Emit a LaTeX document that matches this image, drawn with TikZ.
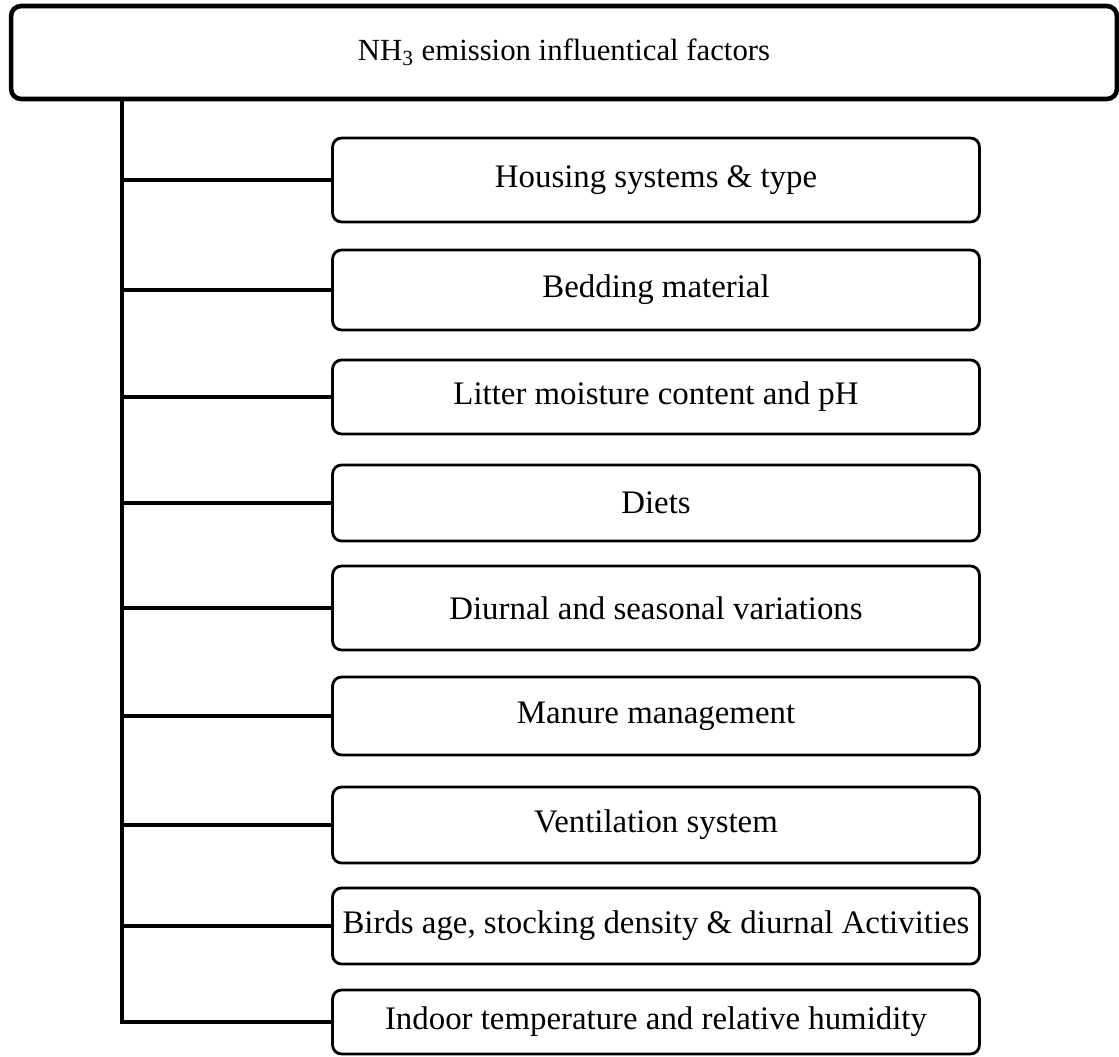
\documentclass[tikz,border=0pt]{standalone}
\usepackage{fontspec}
\setmainfont{Liberation Serif}
\usetikzlibrary{positioning}

\tikzset{
  rootbox/.style={draw=black, line width=2.6pt, rounded corners=0.2cm,
    fill=white, minimum width=22.12cm, minimum height=1.86cm, inner sep=0pt,
    font=\fontsize{17.5}{20}\selectfont},
  factor/.style={draw=black, line width=1.6pt, rounded corners=0.18cm,
    fill=white, minimum width=12.94cm, inner sep=0pt, align=center,
    font=\fontsize{18.7}{22}\selectfont},
  link/.style={line width=1.8pt},
}

\begin{document}
\begin{tikzpicture}[x=0.02cm, y=-0.02cm]

% Geometry (pixel units of the original figure)
\def\trunkx{122}   % x of the vertical spine
\def\boxx{656}     % centre x of the factor boxes

\useasboundingbox (0,0) rectangle (1119,1057);

% ── Title box ───────────────────────────────────────────────────────────
\node[rootbox] (root) at (564,52.5) {NH\textsubscript{3} emission influentical factors};

% ── Factor boxes ────────────────────────────────────────────────────────
% Each entry: index, centre y, height, label
\foreach \i/\cy/\h/\txt in {
  1/180/84/{Housing systems \& type},
  2/290/80/{Bedding material},
  3/397/74/{Litter moisture content and pH},
  4/503/76/{Diets},
  5/608/84/{Diurnal and seasonal variations},
  6/716/78/{Manure management},
  7/825/76/{Ventilation system},
  8/926/76/{Birds age, stocking density \& diurnal Activities},
  9/1022/64/{Indoor temperature and relative humidity}%
} {
  \node[factor, minimum height=\h*0.02cm] (f\i) at (\boxx,\cy) {\txt};
}

% ── Spine and branches ──────────────────────────────────────────────────
\coordinate (trunk) at (\trunkx,0);
\draw[link] (root.south -| trunk) -- (trunk |- f9.west) -- (f9.west);
\foreach \i in {1,...,8}
  \draw[link] (trunk |- f\i.west) -- (f\i.west);

\end{tikzpicture}
\end{document}
